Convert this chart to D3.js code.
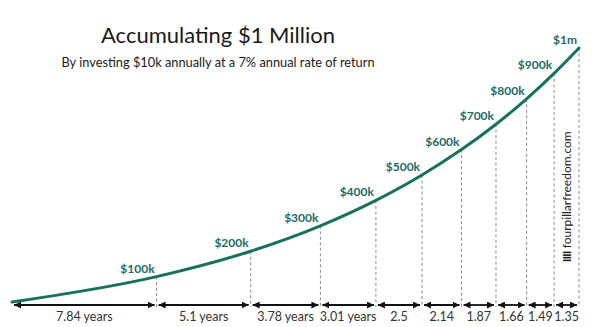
<!DOCTYPE html>
<html>
<head>
<meta charset="utf-8">
<script src="https://cdn.jsdelivr.net/npm/d3@7"></script>
<style>
  html, body { margin: 0; padding: 0; background: #fff; }
  svg { display: block; font-family: Lato, "Open Sans", sans-serif; }
</style>
</head>
<body>
<svg id="chart" width="601" height="327"></svg>
<script>
// Milestones reached by investing $10k a year at 7%
const milestoneLabels = ["$100k", "$200k", "$300k", "$400k", "$500k", "$600k", "$700k", "$800k", "$900k", "$1m"];
const milestoneValues = [100000, 200000, 300000, 400000, 500000, 600000, 700000, 800000, 900000, 1000000];
// Years needed to go from one milestone to the next
const yearsBetween = [7.84, 5.1, 3.78, 3.01, 2.5, 2.14, 1.87, 1.66, 1.49, 1.35];
const yearLabels = ["7.84 years", "5.1 years", "3.78 years", "3.01 years", "2.5", "2.14", "1.87", "1.66", "1.49", "1.35"];

const title = "Accumulating $1 Million";
const subtitle = "By investing $10k annually at a 7% annual rate of return";
const siteName = "fourpillarfreedom.com";

const lineColor = "#18705f";
const labelColor = "#1d6b68";

const svg = d3.select("#chart");

const cumYears = Array.from(d3.cumsum(yearsBetween));
const points = [{ t: 0, v: 0 }].concat(cumYears.map((t, i) => ({ t, v: milestoneValues[i] })));

const x = d3.scaleLinear().domain([0, d3.max(cumYears)]).range([12, 579]);
const y = d3.scaleLinear().domain([0, 1000000]).range([302, 48]);
const arrowY = 305;

// Title block
svg.append("text")
  .attr("x", 218).attr("y", 43)
  .attr("text-anchor", "middle")
  .attr("font-size", 22)
  .attr("fill", "#1a1a1a")
  .text(title);
svg.append("text")
  .attr("x", 218).attr("y", 67)
  .attr("text-anchor", "middle")
  .attr("font-size", 12.8)
  .attr("fill", "#1a1a1a")
  .text(subtitle);

// Arrowhead marker
const defs = svg.append("defs");
defs.append("marker")
  .attr("id", "head")
  .attr("viewBox", "0 0 10 10")
  .attr("refX", 10).attr("refY", 5)
  .attr("markerWidth", 7).attr("markerHeight", 7)
  .attr("markerUnits", "userSpaceOnUse")
  .attr("orient", "auto-start-reverse")
  .append("path")
  .attr("d", "M0,0 L10,5 L0,10 Z")
  .attr("fill", "#111");

// Dashed drop lines from each milestone
svg.append("g").selectAll("line")
  .data(points.slice(1))
  .join("line")
  .attr("x1", d => x(d.t)).attr("x2", d => x(d.t))
  .attr("y1", d => y(d.v)).attr("y2", arrowY + 2)
  .attr("stroke", "#8a8a8a")
  .attr("stroke-width", 1)
  .attr("stroke-dasharray", "3,2.5");

// Growth curve
const line = d3.line()
  .x(d => x(d.t))
  .y(d => y(d.v))
  .curve(d3.curveMonotoneX);
svg.append("path")
  .datum(points)
  .attr("d", line)
  .attr("fill", "none")
  .attr("stroke", lineColor)
  .attr("stroke-width", 3)
  .attr("stroke-linecap", "round");

// Milestone labels
svg.append("g").selectAll("text")
  .data(points.slice(1))
  .join("text")
  .attr("x", d => x(d.t) - 2)
  .attr("y", d => y(d.v) - 4)
  .attr("text-anchor", "end")
  .attr("font-size", 12)
  .attr("font-weight", "bold")
  .attr("fill", labelColor)
  .text((d, i) => milestoneLabels[i]);

// Double-headed arrows spanning each interval
const spans = yearsBetween.map((d, i) => ({ a: points[i].t, b: points[i + 1].t, label: yearLabels[i] }));
svg.append("g").selectAll("line")
  .data(spans)
  .join("line")
  .attr("x1", d => x(d.a) + 2)
  .attr("x2", d => x(d.b) - 2)
  .attr("y1", arrowY).attr("y2", arrowY)
  .attr("stroke", "#111")
  .attr("stroke-width", 1.8)
  .attr("marker-start", "url(#head)")
  .attr("marker-end", "url(#head)");

svg.append("g").selectAll("text")
  .data(spans)
  .join("text")
  .attr("x", d => (x(d.a) + x(d.b)) / 2)
  .attr("y", 321)
  .attr("text-anchor", "middle")
  .attr("font-size", 12.5)
  .attr("fill", "#333")
  .text(d => d.label);

// Site name, running up the final interval
const last = points.length - 1;
const siteX = (x(points[last - 1].t) + x(points[last].t)) / 2 + 4;
const site = svg.append("text")
  .attr("transform", `translate(${siteX},262) rotate(-90)`)
  .attr("font-size", 12)
  .attr("fill", "#222");
site.append("tspan").attr("font-weight", "900").attr("font-size", 10.5).attr("letter-spacing", -0.5).text("IIII");
site.append("tspan").attr("dx", 3).text(siteName);
</script>
</body>
</html>
